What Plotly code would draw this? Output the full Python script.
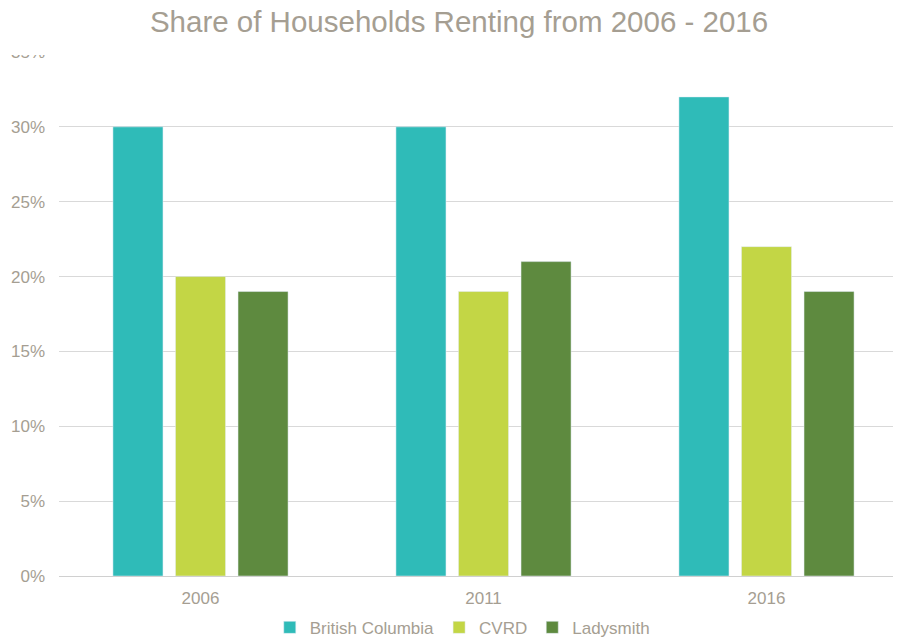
import plotly.graph_objects as go

years = ["2006", "2011", "2016"]
british_columbia = [30, 30, 32]
cvrd = [20, 19, 22]
ladysmith = [19, 21, 19]
tick_vals = [0, 5, 10, 15, 20, 25, 30, 35]
tick_text = ["0%", "5%", "10%", "15%", "20%", "25%", "30%", "35%"]

text_color = "#A59E92"
fig = go.Figure()
fig.add_trace(go.Bar(name="British Columbia", x=years, y=british_columbia, marker_color="#2FBBB8"))
fig.add_trace(go.Bar(name="CVRD", x=years, y=cvrd, marker_color="#C3D645"))
fig.add_trace(go.Bar(name="Ladysmith", x=years, y=ladysmith, marker_color="#5E8A3F"))

fig.update_layout(
    width=901, height=637,
    margin=dict(l=51, r=1, t=44, b=69, autoexpand=False),
    paper_bgcolor="white", plot_bgcolor="white",
    barmode="group", bargap=0.337, bargroupgap=0.2,
    font=dict(family="Liberation Sans, Arial, sans-serif", color=text_color, size=17),
    title=dict(text="Share of Households Renting from 2006 - 2016", x=0.5006, xanchor="center",
               y=0.978, yanchor="middle", font=dict(size=29.5, color=text_color)),
    legend=dict(orientation="h", x=0.475, xanchor="center", yref="container", y=0.027,
                yanchor="middle", font=dict(size=17, color=text_color), traceorder="normal",
                itemwidth=30),
    shapes=[dict(type="rect", xref="paper", yref="paper", x0=-0.2, x1=1.1,
                 y0=(524 - 3) / 524, y1=1.2, fillcolor="white", line=dict(width=0), layer="above")],
)
fig.update_yaxes(range=[0, 35], tickvals=tick_vals, ticktext=tick_text, showgrid=True,
                 gridcolor="#D9D9D9", gridwidth=1, zeroline=False, showline=False,
                 ticks="", ticklabelstandoff=13, automargin=False,
                 tickfont=dict(size=17, color=text_color))
fig.update_xaxes(showline=True, linecolor="#D0D0D0", linewidth=1, ticks="",
                 ticklabelstandoff=7, automargin=False,
                 tickfont=dict(size=17, color=text_color))

fig.write_html("out.html")
